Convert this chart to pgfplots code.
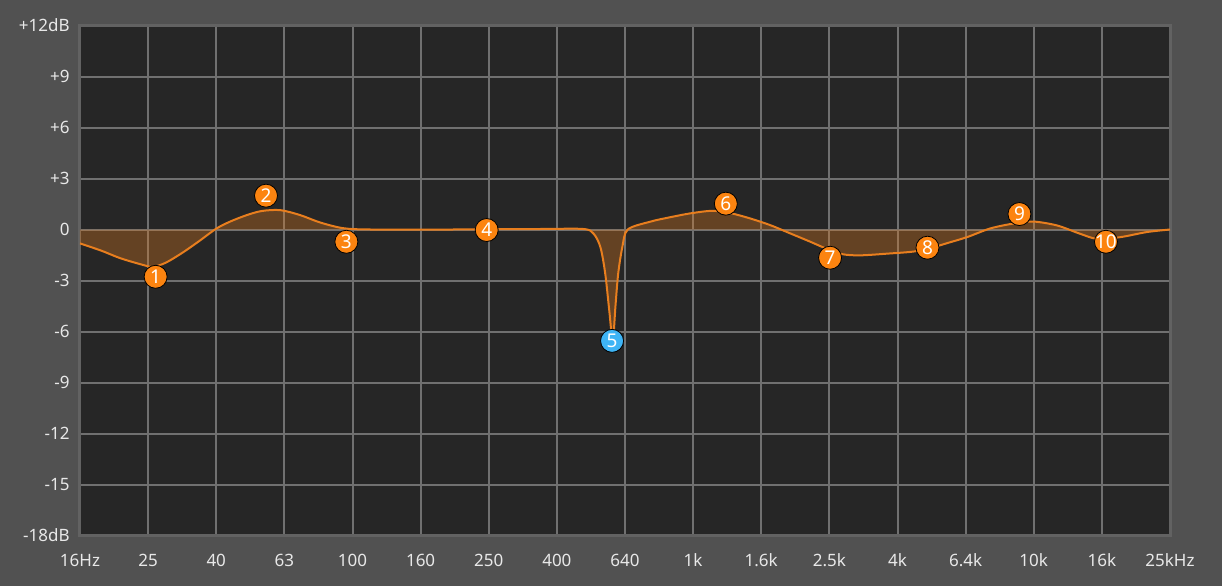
\documentclass[border=0pt]{standalone}
\usepackage{pgfplots}
\pgfplotsset{compat=1.18}
\usepackage{fontspec}
\setmainfont{Noto Sans}

\definecolor{outerbg}{RGB}{81,81,81}
\definecolor{plotbg}{RGB}{38,38,38}
\definecolor{gridc}{RGB}{112,112,112}
\definecolor{framec}{RGB}{98,98,98}
\definecolor{labelc}{RGB}{232,232,232}
\definecolor{curvec}{RGB}{232,126,30}
\definecolor{mkorange}{RGB}{252,132,16}
\definecolor{mkblue}{RGB}{62,180,245}

% EQ response curve, x = band index (0 = 16 Hz ... 16 = 25 kHz), y = dB
\pgfplotstableread{
x y
0.00 -0.82
0.31 -1.24
0.60 -1.70
0.94 -2.10
1.07 -2.20
1.26 -1.95
1.51 -1.35
1.76 -0.65
2.00 0.05
2.20 0.46
2.45 0.85
2.67 1.09
2.94 1.14
3.23 0.85
3.52 0.42
3.86 0.08
4.27 0.00
5.44 0.00
6.76 0.03
7.39 0.03
7.54 -0.25
7.64 -1.05
7.71 -2.60
7.77 -4.80
7.82 -6.55
7.86 -4.50
7.90 -2.60
7.96 -1.05
8.04 0.00
8.37 0.46
8.66 0.72
8.96 0.95
9.28 1.10
9.54 0.97
9.83 0.66
10.13 0.26
10.42 -0.22
10.72 -0.72
10.94 -1.10
11.19 -1.45
11.45 -1.52
11.85 -1.42
12.23 -1.30
12.48 -1.10
12.73 -0.80
13.02 -0.45
13.36 0.06
13.70 0.35
13.99 0.47
14.34 0.24
14.68 -0.25
14.93 -0.55
15.27 -0.45
15.66 -0.15
16.00 0.00
}\eqcurve

\pgfplotstableread{
x y label
1.11 -2.78 1
2.73 1.99 2
3.91 -0.72 3
5.97 -0.03 4
9.48 1.52 6
11.01 -1.66 7
12.44 -1.07 8
13.79 0.91 9
15.06 -0.72 10
}\eqbands

\pgfplotstableread{
x y label
7.81 -6.55 5
}\eqselected

\begin{document}
\begin{tikzpicture}
\fill[outerbg] (0,0) rectangle (611pt,293pt);
\begin{axis}[
  at={(40pt,25.25pt)}, anchor=south west,
  scale only axis, width=545pt, height=255pt,
  xmin=0, xmax=16, ymin=-18, ymax=12,
  xtick={0,...,16},
  xticklabels={16Hz,25,40,63,100,160,250,400,640,1k,1.6k,2.5k,4k,6.4k,10k,16k,25kHz},
  ytick={-18,-15,...,12},
  yticklabels={-18dB,-15,-12,-9,-6,-3,0,+3,+6,+9,+12dB},
  grid=major, grid style={gridc, line width=1pt},
  axis line style={framec, line width=1.5pt},
  axis background/.style={fill=plotbg},
  major tick style={draw=none},
  ticklabel style={text=labelc, font=\fontsize{8.5}{10}\selectfont, inner sep=0pt},
  xticklabel style={anchor=base, yshift=-15.25pt},
  yticklabel style={anchor=east, xshift=-5pt},
]
\addplot[draw=none, fill=curvec, fill opacity=0.32, smooth, tension=0.5]
  table {\eqcurve} \closedcycle;
\addplot[curvec, line width=1pt, smooth, tension=0.5] table {\eqcurve};
\addplot[only marks, mark=*, mark size=5.75pt,
  mark options={fill=mkorange, draw=none},
  nodes near coords, point meta=explicit symbolic,
  nodes near coords style={anchor=center, text=white, inner sep=0pt,
    font=\fontsize{9.5}{11}\selectfont}]
  table[meta=label] {\eqbands};
\addplot[only marks, mark=*, mark size=5.75pt,
  mark options={fill=mkblue, draw=none},
  nodes near coords, point meta=explicit symbolic,
  nodes near coords style={anchor=center, text=white, inner sep=0pt,
    font=\fontsize{9.5}{11}\selectfont}]
  table[meta=label] {\eqselected};
\end{axis}
\pgfresetboundingbox
\useasboundingbox (0,0) rectangle (611pt,293pt);
\end{tikzpicture}
\end{document}
